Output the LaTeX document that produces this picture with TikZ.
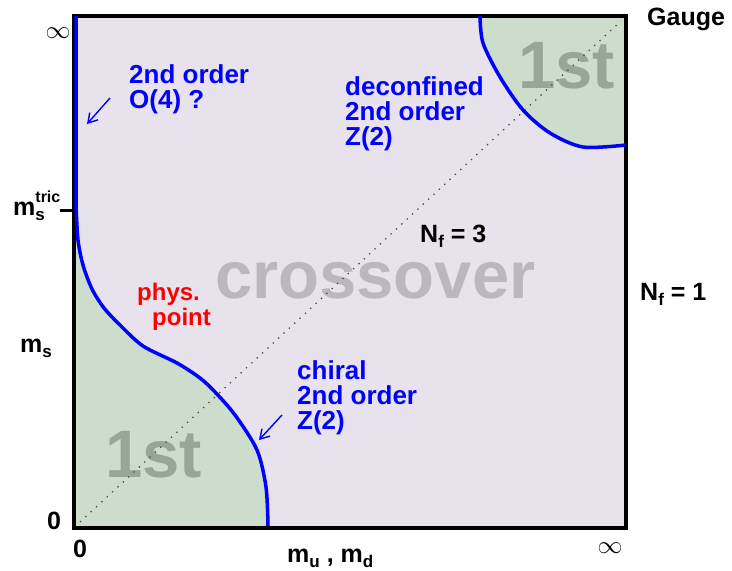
\documentclass[tikz,border=0pt]{standalone}
\usepackage{fontspec}
\setmainfont{Liberation Sans}
\usetikzlibrary{arrows.meta}

\definecolor{bgpurple}{RGB}{232,226,236}
\definecolor{firstgreen}{RGB}{204,221,204}
\definecolor{crossgray}{RGB}{188,182,190}
\definecolor{firstgray}{RGB}{152,166,152}

\newcommand\lowidx[1]{\raisebox{-5pt}{\fontsize{17}{17}\selectfont #1}}
\newcommand\highidx[1]{\raisebox{13pt}{\fontsize{16}{16}\selectfont #1}}

\begin{document}
\begin{tikzpicture}[x=1pt, y=-1pt, >={Straight Barb[length=9pt,width=11pt]},
  bluelbl/.style={text=blue, font=\fontsize{26}{25}\selectfont\bfseries, align=left, inner sep=0, anchor=base west},
  redlbl/.style={text=red, font=\fontsize{24}{25}\selectfont\bfseries, align=left, inner sep=0, anchor=base west},
  axlbl/.style={font=\fontsize{25}{25}\selectfont\bfseries, inner sep=0, anchor=base west},
  biglbl/.style={font=\fontsize{67}{67}\selectfont\bfseries, inner sep=0, anchor=base west},
  phaseline/.style={blue, line width=3.5pt},
  pointer/.style={blue, line width=1.4pt, ->}]
  \useasboundingbox (0,0) rectangle (732,571);
  % Background and first order regions
  \fill[bgpurple] (74,16) rectangle (626,528);
  \fill[firstgreen] plot[smooth] coordinates {(76,205) (78,240) (83,265) (92,289) (104,308)
    (120,325) (143,346) (177,363) (200,378) (215,392) (235,415) (257,450) (266,487) (268,528)}
    -- (74,528) -- (74,205) -- cycle;
  \fill[firstgreen] plot[smooth] coordinates {(480,16) (483,43) (500,77) (523,110) (550,133)
    (583,147) (626,145)} -- (626,16) -- cycle;
  % Big region labels
  \node[biglbl, text=crossgray] (crosslbl) at (215,298) {crossover};
  \node[biglbl, text=firstgray] (firstlo) at (105,477) {1st};
  \node[biglbl, text=firstgray] (firsthi) at (518,88) {1st};
  % Nf = 3 diagonal
  \draw[black!70, line width=1.3pt, dash pattern=on 1.3pt off 6pt] (80,522) -- (621,21);
  % Frame and tick
  \draw[line width=4pt] (74,16) rectangle (626,528);
  \draw[line width=3pt] (60,210) -- (74,210);
  % Phase boundaries
  \draw[phaseline] (76,16) -- plot[smooth] coordinates {(76,205) (78,240) (83,265) (92,289)
    (104,308) (120,325) (143,346) (177,363) (200,378) (215,392) (235,415) (257,450) (266,487)
    (268,526)};
  \draw[phaseline] plot[smooth] coordinates {(480,16) (483,43) (500,77) (523,110) (550,133)
    (583,147) (626,145)};
  % Blue labels and pointers (base = last line)
  \node[bluelbl] (o4lbl) at (129,108) {2nd order\\O(4) ?};
  \node[bluelbl] (deconflbl) at (345,145) {deconfined\\2nd order\\Z(2)};
  \node[bluelbl] (chirallbl) at (297,429) {chiral\\2nd order\\Z(2)};
  \coordinate (o4tail) at (110,98);
  \coordinate (o4tip) at (87,124);
  \coordinate (chiraltail) at (282,415);
  \coordinate (chiraltip) at (259,440);
  \draw[pointer] (o4tail) -- (o4tip);
  \draw[pointer] (chiraltail) -- (chiraltip);
  % Physical point
  \node[redlbl] (physlbl) at (137,325) {phys.\\\hspace{15pt}point};
  % Axis labels
  \node[axlbl] (gauge) at (647,25) {Gauge};
  \node[axlbl] (nfone) at (640,300) {N\lowidx{f} = 1};
  \node[axlbl] (nfthree) at (420,242) {N\lowidx{f} = 3};
  \node[axlbl] (mstric) at (13,215) {m\rlap{\highidx{tric}}\lowidx{s}};
  \node[axlbl] (mslbl) at (20,352) {m\lowidx{s}};
  \node[axlbl] (zeroy) at (47,529) {0};
  \node[axlbl] (zerox) at (73,557) {0};
  \node[axlbl] (mumd) at (287,562) {m\lowidx{u} , m\lowidx{d}};
  \node[font=\fontsize{24}{24}\selectfont, inner sep=0] (infy) at (58,33) {$\infty$};
  \node[font=\fontsize{24}{24}\selectfont, inner sep=0] (infx) at (610,548) {$\infty$};
\end{tikzpicture}
\end{document}
